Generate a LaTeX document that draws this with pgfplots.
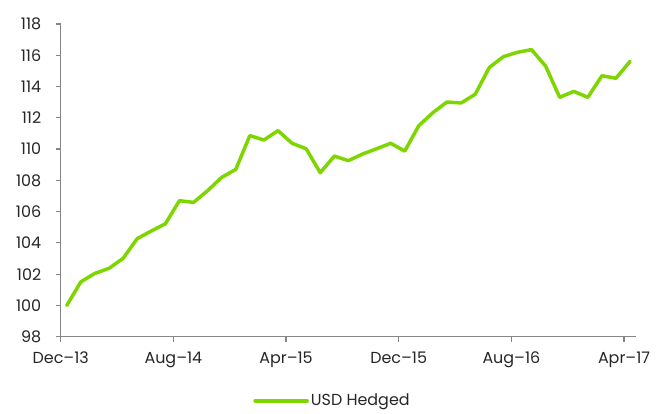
\documentclass[border=0pt]{standalone}
\usepackage{fontspec}
\setmainfont{Poppins}
\usepackage{pgfplots}
\pgfplotsset{compat=1.18}
\definecolor{lineGreen}{RGB}{126,214,0}
\definecolor{axGray}{RGB}{134,134,134}
\definecolor{txt}{RGB}{38,38,38}
\begin{document}
\begin{tikzpicture}
\path[use as bounding box] (-60.7bp,-77.3bp) rectangle (602.3bp,336.7bp);
\begin{axis}[
  at={(0,0)}, anchor=south west,
  scale only axis, width=575.3bp, height=312.7bp,
  xmin=0, xmax=40.85, ymin=98, ymax=118,
  xtick={0,8,16,24,32,40},
  xticklabels={Dec--13,Aug--14,Apr--15,Dec--15,Aug--16,Apr--17},
  ytick={98,100,...,118},
  axis x line*=bottom, axis y line*=left,
  axis line style={draw=axGray, line width=1.2bp, -},
  tick style={draw=axGray, line width=1.2bp},
  tick align=outside, major tick length=5bp,
  tick label style={font=\fontsize{16}{19}\selectfont, text=txt},
  yticklabel shift=11bp,
  xticklabel shift=7bp,
  /pgf/number format/assume math mode=true,
  legend style={draw=none, fill=none, at={(0.4725,-0.205)}, anchor=center,
    font=\fontsize{16}{19}\selectfont, text=txt, inner sep=0pt},
  legend cell align=left,
  legend image code/.code={\draw[#1] (0bp,0bp) -- (52bp,0bp);},
  clip=false,
]
\addplot[color=lineGreen, line width=3.5bp, line join=round, line cap=round] table[x expr=\coordindex+0.43, y=v] {
v
100.00
101.51
102.05
102.37
103.01
104.27
104.76
105.22
106.70
106.59
107.34
108.19
108.70
110.86
110.58
111.18
110.37
110.02
108.49
109.55
109.26
109.68
110.02
110.37
109.87
111.50
112.33
113.01
112.95
113.50
115.21
115.91
116.19
116.36
115.31
113.31
113.69
113.31
114.69
114.53
115.61
};
\addlegendentry{USD Hedged}
\end{axis}
\end{tikzpicture}
\end{document}
